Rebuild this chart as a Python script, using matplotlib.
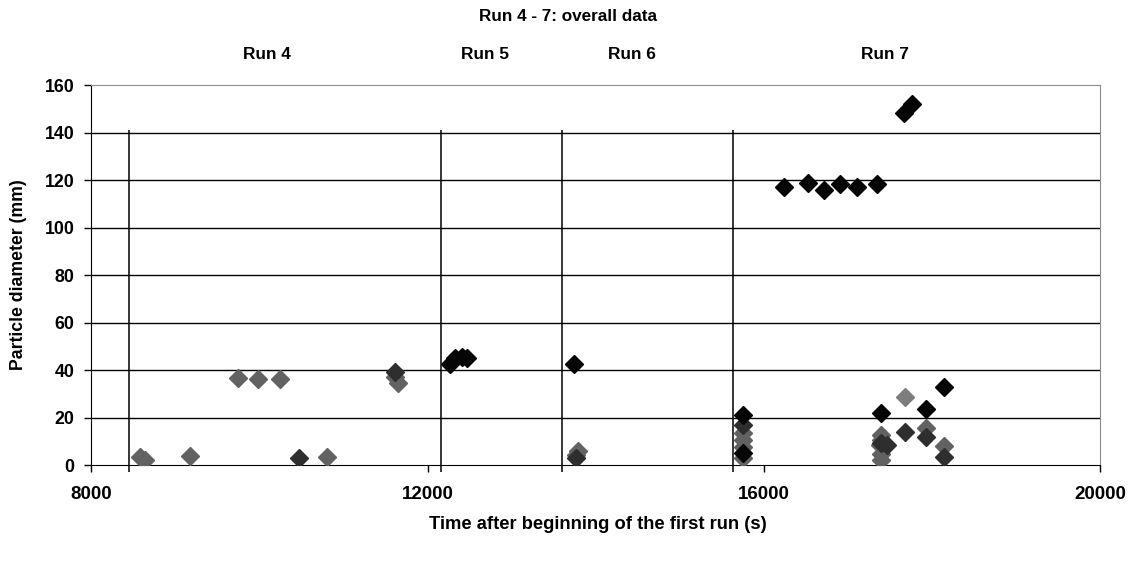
"""Run 4 - 7 particle diameter scatter chart."""

import matplotlib

matplotlib.use("Agg")
import matplotlib.pyplot as plt
from matplotlib import font_manager

# particle data, grouped by marker shade
black_time = [12267, 12326, 12410, 12469, 13746, 15756, 15756,
              16244, 16530, 16720, 16906, 17112, 17343, 17668, 17760,
              17391, 17926, 18148]
black_diam = [42.5, 45.0, 45.5, 45.0, 42.5, 21.0, 5.2,
              116.9, 118.6, 115.8, 118.3, 116.9, 118.3, 148.1, 152.0,
              22.0, 23.4, 32.7]

dark_time = [10475, 11613, 13760, 15756, 17391, 17460, 17680, 17926, 18148]
dark_diam = [2.8, 39.3, 2.8, 16.8, 9.1, 8.5, 14.0, 11.9, 3.2]

gray_time = [8579, 8639, 9174, 9745, 9987, 10245, 10800, 11613, 11652,
             13790, 13770, 15756, 15756, 15756, 15756,
             17391, 17391, 17380, 17391, 17391, 17926, 18148]
gray_diam = [3.2, 2.1, 3.8, 36.6, 36.3, 36.3, 3.2, 37.2, 34.4,
             6.0, 4.2, 13.3, 10.5, 7.7, 2.8,
             12.6, 10.5, 8.4, 4.5, 2.1, 15.4, 8.0]

light_time = [17680]
light_diam = [28.8]

# run boundaries and run labels
run_starts = [8452, 12160, 13600, 15630]
run_names = ["Run 4", "Run 5", "Run 6", "Run 7"]
run_label_x = [10090, 12683, 14432, 17442]

x_ticks = [8000, 12000, 16000, 20000]
y_ticks = list(range(0, 161, 20))

available = {f.name for f in font_manager.fontManager.ttflist}
base_font = "Liberation Sans" if "Liberation Sans" in available else "DejaVu Sans"
plt.rcParams["font.family"] = base_font

figure = plt.figure(figsize=(11.36, 5.66), dpi=100)
ax = figure.add_axes([0.0804, 0.1784, 0.888, 0.6714])

for y in y_ticks[1:-1]:
    ax.axhline(y, color="black", linewidth=1.0, zorder=1)

ax.vlines(run_starts, -3, 141, color="black", linewidth=1.1, zorder=2, clip_on=False)

marker_style = dict(linestyle="none", marker="D", markersize=8.8, zorder=3)
ax.plot(gray_time, gray_diam, color="#626262", **marker_style)
ax.plot(light_time, light_diam, color="#7d7d7d", **marker_style)
ax.plot(dark_time, dark_diam, color="#2e2e2e", **marker_style)
ax.plot(black_time, black_diam, color="#050505", **marker_style)

ax.set_xlim(8000, 20000)
ax.set_ylim(0, 160)
ax.set_xticks(x_ticks)
ax.set_yticks(y_ticks)
ax.tick_params(direction="out", length=5, width=1.0)
ax.tick_params(axis="x", labelsize=13.5, pad=10)
ax.tick_params(axis="y", labelsize=12.8, pad=7)
for label in ax.get_xticklabels() + ax.get_yticklabels():
    label.set_fontweight("bold")

ax.spines["left"].set_color("black")
ax.spines["bottom"].set_color("black")
ax.spines["top"].set_color("#8c8c8c")
ax.spines["right"].set_color("#8c8c8c")

figure.text(0.016, 0.5141, "Particle diameter (mm)", rotation=90,
            ha="center", va="center", fontsize=12.7, fontweight="bold")
figure.text(0.526, 0.074, "Time after beginning of the first run (s)",
            ha="center", va="center", fontsize=13.2, fontweight="bold")
figure.text(0.5, 0.97, "Run 4 - 7: overall data",
            ha="center", va="center", fontsize=12.3, fontweight="bold")

for name, xpos in zip(run_names, run_label_x):
    ax.text(xpos, 1.079, name, transform=ax.get_xaxis_transform(),
            ha="center", va="center", fontsize=12.4, fontweight="bold")

figure.savefig("out.png", dpi=100)
plt.close(figure)
